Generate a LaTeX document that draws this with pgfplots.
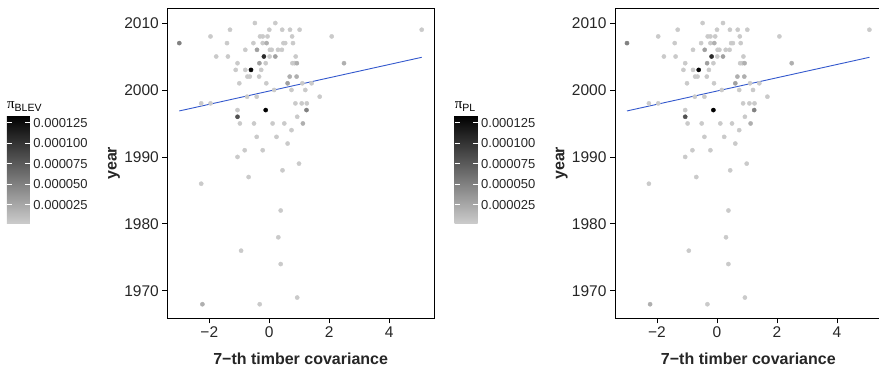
\documentclass[border=0pt]{standalone}
\usepackage{pgfplots}
\pgfplotsset{compat=1.18}
\usepackage{pgfplotstable}
\usepackage{fontspec}
\setmainfont{Liberation Sans}
\newfontfamily\symfont{Liberation Serif}
\definecolor{smoothblue}{RGB}{51,88,205}

\pgfplotstableread{
x y m
-0.48 2010 0.000003
0.20 2010 0.000003
-1.31 2009 0.000003
0.00 2009 0.000003
0.43 2009 0.000003
0.69 2009 0.000003
1.01 2009 0.000003
5.08 2009 0.000003
-1.96 2008 0.000003
-0.31 2008 0.000003
-0.22 2008 0.000003
-0.06 2008 0.000003
0.76 2008 0.000003
2.08 2008 0.000003
-3.00 2007 0.00005
-1.41 2007 0.000003
-0.53 2007 0.000003
-0.22 2007 0.000003
-0.09 2007 0.00002
0.47 2007 0.000003
0.53 2007 0.000003
0.79 2007 0.000003
-0.80 2006 0.000003
-0.41 2006 0.00003
0.02 2006 0.000003
0.08 2006 0.000003
0.29 2006 0.000003
0.42 2006 0.000003
-1.77 2005 0.000003
-1.38 2005 0.000003
-0.18 2005 0.000105
0.01 2005 0.000003
0.20 2005 0.00003
0.88 2005 0.000003
-1.06 2004 0.000003
-0.33 2004 0.00003
-0.12 2004 0.000003
0.77 2004 0.000003
0.84 2004 0.000003
0.92 2004 0.00002
2.49 2004 0.00002
-1.12 2003 0.000003
-0.80 2003 0.000003
-0.61 2003 0.00013
-0.27 2003 0.000003
-0.73 2002 0.000003
-0.65 2002 0.000003
-0.34 2002 0.000003
0.68 2002 0.00002
0.91 2002 0.00002
-1.00 2001 0.000003
-0.10 2001 0.000003
0.61 2001 0.00003
1.10 2001 0.000003
1.41 2001 0.000003
0.16 2000 0.000003
0.74 2000 0.000003
1.20 2000 0.000003
-0.74 1999 0.000003
-0.42 1999 0.000003
1.68 1999 0.000003
-2.27 1998 0.000003
-1.96 1998 0.000003
0.87 1998 0.000003
1.08 1998 0.000003
1.25 1998 0.000003
-1.06 1997 0.000003
-0.12 1997 0.000134
1.24 1997 0.00005
-1.06 1996 0.00008
0.93 1996 0.000003
-0.98 1995 0.000003
-0.51 1995 0.000003
0.11 1995 0.000003
0.50 1995 0.000003
1.12 1995 0.00002
0.74 1994 0.000003
-0.42 1993 0.000003
0.24 1993 0.000003
0.61 1992 0.000003
-0.82 1991 0.000003
-0.22 1991 0.000003
-1.06 1990 0.000003
0.99 1989 0.000003
0.44 1988 0.000003
-0.69 1987 0.000003
-2.27 1986 0.000003
0.38 1982 0.000003
0.30 1978 0.000003
-0.94 1976 0.000003
0.38 1974 0.000003
0.93 1969 0.000003
-2.23 1968 0.00002
-0.32 1968 0.000003
}\pts

\pgfplotsset{
  panel/.style={
    scale only axis, width=266.7pt, height=310pt,
    xmin=-3.4, xmax=5.49, ymin=1965.9, ymax=2012.2,
    xtick={-2,0,2,4}, xticklabels={−2,0,2,4},
    ytick={1970,1980,1990,2000,2010},
    tick align=outside, tick pos=left, major tick length=5pt,
    tick style={black, line width=0.8pt},
    axis line style={black, line width=1pt},
    /pgf/number format/assume math mode=true,
    /pgf/number format/1000 sep={},
    ticklabel style={font=\fontsize{15.5}{18}\selectfont, text=black!85},
    xlabel={7−th timber covariance},
    ylabel={year},
    every axis x label/.style={at={(axis description cs:0.5,-0.129)}, anchor=center,
      font=\fontsize{16}{19}\selectfont\bfseries, text=black!85},
    every axis y label/.style={at={(axis description cs:-0.2,0.5)}, rotate=90, anchor=center,
      font=\fontsize{16}{19}\selectfont\bfseries, text=black!85},
    colormap={bw}{gray(0cm)=(0.8); gray(1cm)=(0)},
    point meta min=0.0000016, point meta max=0.000134,
    colorbar,
    colorbar/width=23pt,
    colorbar style={
      at={(parent axis.north west)},
      anchor=north west,
      xshift=-168.9pt, yshift=-107.2pt,
      scale only axis, width=23pt, height=108.3pt,
      ytick={0.000025,0.00005,0.000075,0.0001,0.000125},
      scaled y ticks=false,
      yticklabel style={font=\fontsize{13}{15}\selectfont, text=black!85,
        /pgf/number format/fixed, /pgf/number format/fixed zerofill,
        /pgf/number format/precision=6, /pgf/number format/assume math mode=true},
      major tick length=5pt, tick align=inside,
      ytick pos=both, yticklabel pos=right,
      tick style={white, line width=0.8pt},
      axis line style={draw=none},
      title style={at={(0,1)}, anchor=south west, inner sep=0pt, yshift=-2pt,
        font=\fontsize{15}{17}\selectfont},
    },
  },
}

\begin{document}
\begin{tikzpicture}
\useasboundingbox (0,0) rectangle (879pt,367pt);
\begin{axis}[panel, at={(167.3pt,48.7pt)}, anchor=south west,
  colorbar style={title={{\symfont π}\raisebox{-3pt}{\fontsize{10.5}{12}\selectfont BLEV}}}]
\addplot[scatter, only marks, mark=*, mark size=2.1pt, scatter src=explicit,
  scatter/use mapped color={draw=mapped color, fill=mapped color}]
  table[x=x, y=y, meta=m] {\pts};
\addplot[smoothblue, line width=0.9pt, no marks] coordinates {(-3.0,1996.87) (5.08,2004.88)};
\end{axis}
\begin{axis}[panel, at={(615pt,48.7pt)}, anchor=south west,
  colorbar style={title={{\symfont π}\raisebox{-3pt}{\fontsize{10.5}{12}\selectfont PL}}}]
\addplot[scatter, only marks, mark=*, mark size=2.1pt, scatter src=explicit,
  scatter/use mapped color={draw=mapped color, fill=mapped color}]
  table[x=x, y=y, meta=m] {\pts};
\addplot[smoothblue, line width=0.9pt, no marks] coordinates {(-3.0,1996.87) (5.08,2004.88)};
\end{axis}
\end{tikzpicture}
\end{document}
